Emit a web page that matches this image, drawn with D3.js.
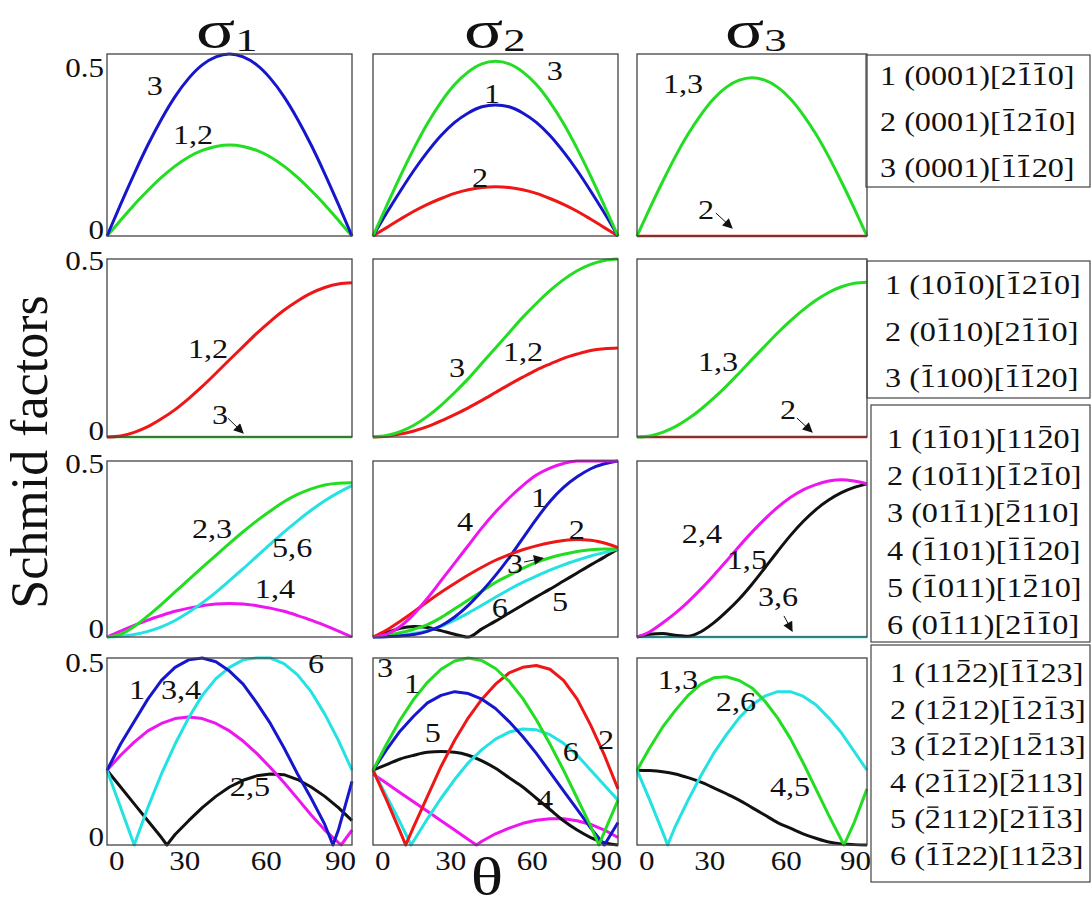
<!DOCTYPE html>
<html>
<head>
<meta charset="utf-8">
<script src="https://cdn.jsdelivr.net/npm/d3@7"></script>
<style>
  html, body { margin: 0; padding: 0; background: #fff; }
  svg { display: block; }
  svg text { font-family: "Liberation Serif", "Times New Roman", Tinos, serif; }
</style>
</head>
<body>
<svg id="chart" width="1092" height="907"></svg>
<script>
// theta grid (degrees) shared by the smooth curves
const thetaGrid = [0, 5, 10, 15, 20, 25, 30, 35, 40, 45, 50, 55, 60, 65, 70, 75, 80, 85, 90];
const zeros = thetaGrid.map(() => 0);

// row 1: basal
const basalS1_3 = [0, .087, .171, .25, .321, .383, .433, .47, .492, .5, .492, .47, .433, .383, .321, .25, .171, .087, 0];
const basalS1_12 = [0, .043, .086, .125, .161, .192, .217, .235, .246, .25, .246, .235, .217, .192, .161, .125, .086, .043, 0];
const basalS2_3 = [0, .083, .164, .24, .309, .368, .416, .451, .473, .48, .473, .451, .416, .368, .309, .24, .164, .083, 0];
const basalS2_1 = [0, .063, .123, .18, .231, .276, .312, .338, .355, .36, .355, .338, .312, .276, .231, .18, .123, .063, 0];
const basalS2_2 = [0, .023, .046, .068, .087, .103, .117, .127, .133, .135, .133, .127, .117, .103, .087, .068, .046, .023, 0];
const basalS3_13 = [0, .076, .149, .218, .28, .333, .377, .409, .428, .435, .428, .409, .377, .333, .28, .218, .149, .076, 0];

// row 2: prismatic
const prismS1_12 = [0, .003, .013, .029, .051, .077, .108, .142, .179, .217, .254, .291, .325, .356, .382, .404, .42, .43, .433];
const prismS2_3 = [0, .004, .015, .033, .058, .089, .125, .164, .207, .25, .293, .336, .375, .411, .442, .467, .485, .496, .5];
const prismS2_12 = [0, .002, .008, .017, .029, .045, .063, .082, .103, .125, .147, .168, .188, .205, .221, .233, .243, .248, .25];
const prismS3_13 = [0, .003, .013, .029, .051, .078, .109, .143, .18, .218, .255, .292, .326, .357, .384, .406, .422, .432, .435];

// row 3: pyramidal <a>
const pyrAS1_23 = [0, .008, .03, .06, .093, .128, .163, .198, .232, .266, .299, .33, .358, .384, .405, .421, .432, .437, .438];
const pyrAS1_56 = [0, .002, .007, .016, .029, .047, .07, .097, .127, .16, .194, .229, .264, .298, .33, .36, .387, .41, .43];
const pyrAS1_14 = [0, .017, .033, .048, .061, .073, .082, .089, .094, .095, .094, .089, .082, .073, .061, .048, .033, .017, 0];
const pyrAS2_4 = [0, .008, .03, .065, .11, .16, .21, .26, .31, .355, .395, .43, .46, .48, .493, .5, .5, .5, .5];
const pyrAS2_1 = [0, .001, .003, .007, .016, .032, .057, .09, .13, .175, .225, .28, .335, .385, .425, .455, .478, .492, .5];
const pyrAS2_2 = [0, .02, .045, .072, .1, .127, .152, .176, .198, .218, .234, .248, .259, .268, .274, .277, .275, .267, .254];
const pyrAS2_3 = [0, .005, .012, .022, .035, .055, .08, .105, .13, .155, .175, .195, .212, .225, .235, .243, .248, .25, .25];
const pyrAS2_6 = [0, .002, .005, .01, .018, .03, .048, .068, .09, .113, .135, .155, .173, .19, .205, .218, .23, .24, .25];
const pyrAS2_5 = [0, .012, .025, .03, .027, .018, .008, 0, .023, .045, .068, .091, .114, .136, .159, .182, .205, .227, .25];
const pyrAS3_24 = [0, .015, .04, .068, .1, .136, .175, .216, .258, .298, .335, .368, .396, .418, .433, .443, .447, .443, .435];
const pyrAS3_15 = [0, .008, .01, .005, .002, .015, .04, .072, .108, .15, .196, .243, .288, .328, .362, .389, .41, .425, .435];

// row 4: pyramidal <c+a>, curves with kinks carry their own theta lists
const pyrCAS1_1T = [0, 5, 10, 15, 20, 25, 30, 35, 40, 45, 50, 55, 60, 65, 70, 75, 80, 83, 85, 90];
const pyrCAS1_1 = [.2, .27, .33, .39, .44, .475, .495, .5, .49, .465, .43, .38, .325, .26, .19, .125, .055, 0, .04, .17];
const pyrCAS1_34T = [0, 5, 10, 15, 20, 25, 30, 35, 40, 45, 50, 55, 60, 65, 70, 75, 80, 86, 90];
const pyrCAS1_34 = [.2, .24, .275, .305, .325, .338, .342, .338, .325, .305, .278, .245, .207, .167, .124, .08, .04, 0, .04];
const pyrCAS1_6T = [0, 5, 10, 15, 20, 25, 30, 35, 40, 45, 50, 55, 60, 65, 70, 75, 80, 85, 90];
const pyrCAS1_6 = [.2, .1, 0, .1, .19, .27, .34, .4, .445, .475, .495, .5, .5, .485, .455, .41, .35, .28, .2];
const pyrCAS1_25T = [0, 5, 10, 15, 20, 22, 25, 30, 35, 40, 45, 50, 55, 60, 65, 70, 75, 80, 85, 90];
const pyrCAS1_25 = [.2, .155, .11, .065, .02, 0, .028, .065, .1, .13, .155, .173, .185, .19, .188, .175, .155, .13, .1, .065];

const pyrCAS2_3T = [0, 5, 10, 15, 20, 25, 30, 35, 40, 45, 50, 55, 60, 65, 70, 75, 80, 83, 85, 90];
const pyrCAS2_3 = [.2, .27, .335, .39, .435, .47, .492, .5, .493, .472, .438, .392, .335, .27, .2, .125, .05, 0, .035, .12];
const pyrCAS2_1T = [0, 5, 10, 15, 20, 25, 30, 35, 40, 45, 50, 55, 60, 65, 70, 75, 80, 85, 90];
const pyrCAS2_1 = [.2, .255, .305, .345, .38, .4, .41, .405, .39, .365, .33, .29, .245, .195, .145, .095, .045, 0, .06];
const pyrCAS2_2T = [0, 5, 10, 12, 15, 20, 25, 30, 35, 40, 45, 50, 55, 60, 65, 70, 75, 80, 85, 90];
const pyrCAS2_2 = [.2, .12, .035, 0, .05, .13, .21, .28, .34, .39, .43, .46, .475, .48, .47, .44, .39, .32, .24, .15];
const pyrCAS2_6T = [0, 5, 10, 14, 20, 25, 30, 35, 40, 45, 50, 55, 60, 65, 70, 75, 80, 85, 90];
const pyrCAS2_6 = [.2, .13, .06, 0, .07, .125, .175, .22, .255, .283, .302, .31, .308, .295, .272, .24, .2, .16, .12];
const pyrCAS2_4T = [0, 5, 10, 15, 20, 25, 30, 35, 38, 40, 45, 50, 55, 60, 65, 70, 75, 80, 85, 90];
const pyrCAS2_4 = [.19, .165, .14, .115, .09, .065, .04, .015, 0, .01, .03, .045, .058, .066, .07, .07, .065, .055, .04, .02];
const pyrCAS2_5 = [.2, .215, .23, .24, .248, .25, .248, .24, .225, .205, .18, .155, .125, .095, .065, .04, .02, .006, 0];

const pyrCAS3_13T = [0, 5, 10, 15, 20, 25, 30, 35, 40, 45, 50, 55, 60, 65, 70, 75, 81, 85, 90];
const pyrCAS3_13 = [.2, .26, .315, .36, .4, .43, .447, .45, .44, .42, .385, .34, .285, .22, .15, .08, 0, .06, .15];
const pyrCAS3_26T = [0, 5, 10, 12, 15, 20, 25, 30, 35, 40, 45, 50, 55, 60, 65, 70, 75, 80, 85, 90];
const pyrCAS3_26 = [.2, .12, .035, 0, .05, .12, .185, .245, .295, .34, .375, .398, .41, .41, .398, .375, .34, .3, .25, .2];
const pyrCAS3_45 = [.2, .199, .196, .19, .18, .168, .153, .137, .12, .1, .08, .06, .045, .03, .018, .008, .003, .001, 0];

// curve labels: [text, theta, value]
const basalS1Labels = [["3", 17.6, .412], ["1,2", 31.6, .277]];
const basalS2Labels = [["3", 66.8, .453], ["1", 43.7, .39], ["2", 39.3, .159]];
const basalS3Labels = [["1,3", 18, .418], ["2", 27, .071]];
const prismS1Labels = [["1,2", 37.1, .247], ["3", 41.5, .062]];
const prismS2Labels = [["3", 30.9, .194], ["1,2", 55.1, .239]];
const prismS3Labels = [["1,3", 31.7, .211], ["2", 59.1, .076]];
const pyrAS1Labels = [["2,3", 38.6, .307], ["5,6", 68, .253], ["1,4", 61.7, .136]];
const pyrAS2Labels = [["4", 33.8, .327], ["1", 61, .395], ["2", 74.9, .304], ["3", 52.2, .207], ["6", 46.6, .082], ["5", 68.7, .099]];
const pyrAS3Labels = [["2,4", 25.4, .293], ["1,5", 43, .219], ["3,6", 55.2, .114]];
const pyrCAS1Labels = [["1", 11, .414], ["3,4", 27.2, .414], ["6", 76.8, .484], ["2,5", 52.5, .155]];
const pyrCAS2Labels = [["3", 4.4, .473], ["1", 14.3, .43], ["5", 22, .3], ["2", 85.6, .281], ["6", 72.7, .249], ["4", 63.2, .12]];
const pyrCAS3Labels = [["1,3", 16, .441], ["2,6", 38.7, .382], ["4,5", 59.9, .155]];

// arrows: [theta1, v1, theta2, v2]
const basalS3Arrows = [[30.9, .063, 37.2, .022]];
const prismS1Arrows = [[44.4, .053, 50, .011]];
const prismS3Arrows = [[62.6, .053, 68.5, .014]];
const pyrAS2Arrows = [[55.5, .213, 62.4, .224]];
const pyrAS3Arrows = [[57.5, .06, 60.7, .017]];

// slip systems, "~" puts a bar over the next digit
const legendBasal = ["1 (0001)[2~1~10]", "2 (0001)[~12~10]", "3 (0001)[~1~120]"];
const legendPrism = ["1 (10~10)[~12~10]", "2 (0~110)[2~1~10]", "3 (~1100)[~1~120]"];
const legendPyrA = ["1 (1~101)[11~20]", "2 (10~11)[~12~10]", "3 (01~11)[~2110]", "4 (~1101)[~1~120]", "5 (~1011)[1~210]", "6 (0~111)[2~1~10]"];
const legendPyrCA = ["1 (11~22)[~1~123]", "2 (1~212)[~12~13]", "3 (~12~12)[1~213]", "4 (2~1~12)[~2113]", "5 (~2112)[2~1~13]", "6 (~1~122)[11~23]"];

const xTicks = [0, 30, 60, 90];
const yTicks = [0, 0.5];

const colors = {
  blue: "#1616cc", green: "#22dd22", red: "#ee1616",
  magenta: "#ee16ee", cyan: "#24e2e2", black: "#111111"
};

const panels = [
  { r: 0, c: 0, series: [["green", basalS1_12], ["blue", basalS1_3]], labels: basalS1Labels, arrows: [] },
  { r: 0, c: 1, series: [["red", basalS2_2], ["blue", basalS2_1], ["green", basalS2_3]], labels: basalS2Labels, arrows: [] },
  { r: 0, c: 2, series: [["red", zeros], ["green", basalS3_13]], labels: basalS3Labels, arrows: basalS3Arrows },
  { r: 1, c: 0, series: [["green", zeros], ["red", prismS1_12]], labels: prismS1Labels, arrows: prismS1Arrows },
  { r: 1, c: 1, series: [["red", prismS2_12], ["green", prismS2_3]], labels: prismS2Labels, arrows: [] },
  { r: 1, c: 2, series: [["red", zeros], ["green", prismS3_13]], labels: prismS3Labels, arrows: prismS3Arrows },
  { r: 2, c: 0, series: [["magenta", pyrAS1_14], ["cyan", pyrAS1_56], ["green", pyrAS1_23]], labels: pyrAS1Labels, arrows: [] },
  { r: 2, c: 1, series: [["black", pyrAS2_5], ["cyan", pyrAS2_6], ["green", pyrAS2_3], ["blue", pyrAS2_1], ["red", pyrAS2_2], ["magenta", pyrAS2_4]], labels: pyrAS2Labels, arrows: pyrAS2Arrows },
  { r: 2, c: 2, series: [["cyan", zeros], ["black", pyrAS3_15], ["magenta", pyrAS3_24]], labels: pyrAS3Labels, arrows: pyrAS3Arrows },
  { r: 3, c: 0, series: [["black", pyrCAS1_25, pyrCAS1_25T], ["magenta", pyrCAS1_34, pyrCAS1_34T], ["cyan", pyrCAS1_6, pyrCAS1_6T], ["blue", pyrCAS1_1, pyrCAS1_1T]], labels: pyrCAS1Labels, arrows: [] },
  { r: 3, c: 1, series: [["magenta", pyrCAS2_4, pyrCAS2_4T], ["black", pyrCAS2_5], ["cyan", pyrCAS2_6, pyrCAS2_6T], ["red", pyrCAS2_2, pyrCAS2_2T], ["blue", pyrCAS2_1, pyrCAS2_1T], ["green", pyrCAS2_3, pyrCAS2_3T]], labels: pyrCAS2Labels, arrows: [] },
  { r: 3, c: 2, series: [["black", pyrCAS3_45], ["cyan", pyrCAS3_26, pyrCAS3_26T], ["green", pyrCAS3_13, pyrCAS3_13T]], labels: pyrCAS3Labels, arrows: [] }
];

const legends = [legendBasal, legendPrism, legendPyrA, legendPyrCA];

// layout
const SX = 1.15; // the scanned type is a bit wider than the font
const colX = [[107, 352], [373, 618], [637, 867]];
const rowY = [[54, 236], [259, 437], [461, 637], [658, 845]];
const topTickShift = [23, 11, 12, 14];
const zeroTickShift = [3, 3, 1, 1];
const legendBoxes = [
  { x0: 866, y0: 55, x1: 1090, y1: 187, tx: 880, ty: 85, dy: 46 },
  { x0: 867, y0: 261, x1: 1090, y1: 398, tx: 885, ty: 294, dy: 46.5 },
  { x0: 871, y0: 405, x1: 1090, y1: 642, tx: 887, ty: 448, dy: 37.2 },
  { x0: 871, y0: 645, x1: 1090, y1: 882, tx: 890, ty: 682, dy: 36.6 }
];

const svg = d3.select("#chart");

svg.append("defs").append("marker")
  .attr("id", "arrowHead")
  .attr("viewBox", "0 0 10 10")
  .attr("refX", 9).attr("refY", 5)
  .attr("markerUnits", "userSpaceOnUse")
  .attr("markerWidth", 11).attr("markerHeight", 10)
  .attr("orient", "auto")
  .append("path").attr("d", "M0,0 L10,5 L0,10 z").attr("fill", "#111");

function addText(parent, str, x, y, size, anchor, sx) {
  const g = parent.append("g").attr("transform", `translate(${x},${y}) scale(${sx || SX},1)`);
  const bars = [];
  let plain = "";
  for (const ch of str) {
    if (ch === "~") bars.push(plain.length);
    else plain += ch;
  }
  const t = g.append("text")
    .attr("text-anchor", anchor || "start")
    .attr("font-size", size)
    .attr("fill", "#111")
    .text(plain);
  bars.forEach((i) => {
    const e = t.node().getExtentOfChar(i);
    g.append("line")
      .attr("x1", e.x + size * 0.08).attr("x2", e.x + e.width - size * 0.08)
      .attr("y1", -size * 0.76).attr("y2", -size * 0.76)
      .attr("stroke", "#111").attr("stroke-width", 1.4);
  });
  return g;
}

panels.forEach((p) => {
  const x = d3.scaleLinear().domain([0, 90]).range(colX[p.c]);
  const y = d3.scaleLinear().domain([0, 0.5]).range([rowY[p.r][1], rowY[p.r][0]]);
  const g = svg.append("g");

  p.series.forEach(([key, vals, thetas]) => {
    const ts = thetas || thetaGrid;
    const line = d3.line()
      .x((d, i) => x(ts[i]))
      .y((d) => y(d))
      .curve(thetas ? d3.curveLinear : d3.curveMonotoneX);
    const flat = d3.max(vals) === 0;
    g.append("path")
      .attr("d", line(vals))
      .attr("fill", "none")
      .attr("stroke", colors[key])
      .attr("stroke-width", flat ? 2.4 : 3)
      .attr("stroke-linejoin", "round");
  });

  g.append("rect")
    .attr("x", x(0)).attr("y", y(0.5))
    .attr("width", x(90) - x(0)).attr("height", y(0) - y(0.5))
    .attr("fill", "none").attr("stroke", "#444").attr("stroke-width", 1.3);

  p.labels.forEach(([txt, th, v]) => addText(g, txt, x(th), y(v) + 9, 28, "middle"));

  p.arrows.forEach(([t1, v1, t2, v2]) => {
    g.append("line")
      .attr("x1", x(t1)).attr("y1", y(v1))
      .attr("x2", x(t2)).attr("y2", y(v2))
      .attr("stroke", "#111").attr("stroke-width", 1)
      .attr("marker-end", "url(#arrowHead)");
  });

  // y tick labels on the first column
  if (p.c === 0) {
    addText(svg, String(yTicks[1]), 104, y(yTicks[1]) + topTickShift[p.r], 27, "end");
    addText(svg, String(yTicks[0]), 104, y(yTicks[0]) + zeroTickShift[p.r], 27, "end");
  }

  // x tick labels under the bottom row
  if (p.r === 3) {
    xTicks.forEach((t) => {
      let anchor = "middle", px = x(t) - 4;
      if (t === 0) { anchor = "start"; px = x(t) + 2; }
      if (t === 90) { anchor = "end"; px = x(t) + 4; }
      addText(svg, String(t), px, 870, 27, anchor);
    });
  }
});

// column titles (kept small enough for the text box to stay inside the page)
const sigmaX = [196, 464, 725];
sigmaX.forEach((sx, i) => {
  const t = svg.append("text")
    .attr("transform", `translate(${sx},47) scale(1.4,1)`)
    .attr("fill", "#111");
  t.append("tspan").attr("font-size", 52).text("σ");
  t.append("tspan").attr("font-size", 32).attr("dy", 4).text(String(i + 1));
});

// axis titles
svg.append("text")
  .attr("transform", "translate(47,452) rotate(-90)")
  .attr("text-anchor", "middle")
  .attr("font-size", 52)
  .attr("fill", "#111")
  .text("Schmid factors");

addText(svg, "θ", 487, 894, 52, "middle", 1.3);

// slip system boxes
legends.forEach((items, i) => {
  const b = legendBoxes[i];
  svg.append("rect")
    .attr("x", b.x0).attr("y", b.y0)
    .attr("width", b.x1 - b.x0).attr("height", b.y1 - b.y0)
    .attr("fill", "none").attr("stroke", "#444").attr("stroke-width", 1.2);
  items.forEach((s, j) => addText(svg, s, b.tx, b.ty + j * b.dy, 28, "start"));
});
</script>
</body>
</html>
